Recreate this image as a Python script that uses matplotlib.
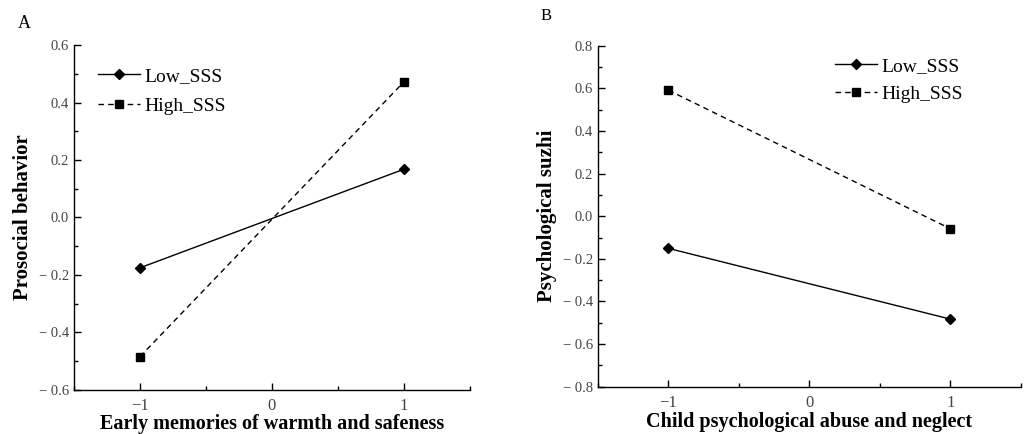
import matplotlib
matplotlib.use("Agg")
import matplotlib.pyplot as plt
from matplotlib.ticker import MultipleLocator, FuncFormatter

plt.rcParams['font.family'] = ['Liberation Serif', 'DejaVu Serif']

x_levels = [-1, 1]
a_low = [-0.175, 0.168]
a_high = [-0.484, 0.472]
b_low = [-0.151, -0.483]
b_high = [0.591, -0.059]
series_names = ["Low_SSS", "High_SSS"]

def yfmt(v, pos):
    if abs(v) < 1e-9:
        return "0.0"
    if v < 0:
        return "\u2212 %.1f" % abs(v)
    return "%.1f" % v

def xfmt(v, pos):
    if v < 0:
        return "\u2212%d" % abs(v)
    return "%d" % v

fig = plt.figure(figsize=(10.25, 4.34), dpi=100)
axA = fig.add_axes([0.0722, 0.1014, 0.3863, 0.7949])
axB = fig.add_axes([0.5834, 0.109, 0.4126, 0.7857])

def style(ax, ylim, ymaj):
    ax.set_xlim(-1.5, 1.5)
    ax.set_ylim(*ylim)
    ax.spines['top'].set_visible(False)
    ax.spines['right'].set_visible(False)
    for s in ['left', 'bottom']:
        ax.spines[s].set_linewidth(1.0)
    ax.xaxis.set_major_locator(MultipleLocator(1))
    ax.xaxis.set_minor_locator(MultipleLocator(0.5))
    ax.yaxis.set_major_locator(MultipleLocator(ymaj))
    ax.yaxis.set_minor_locator(MultipleLocator(ymaj / 2))
    ax.yaxis.set_major_formatter(FuncFormatter(yfmt))
    ax.xaxis.set_major_formatter(FuncFormatter(xfmt))
    ax.tick_params(which='major', direction='in', length=5, width=1.0,
                   labelsize=10.5, labelcolor='#444444')
    ax.tick_params(which='minor', direction='in', length=3, width=1.0)
    ax.tick_params(axis='x', which='major', labelsize=12, pad=6)

style(axA, (-0.6, 0.6), 0.2)
style(axB, (-0.8, 0.8), 0.2)

for ax, low, high in [(axA, a_low, a_high), (axB, b_low, b_high)]:
    ax.plot(x_levels, low, color='black', linestyle='-', linewidth=1.0,
            marker='D', markersize=5.5, label=series_names[0])
    ax.plot(x_levels, high, color='black', linestyle=(0, (4, 3)), linewidth=1.0,
            marker='s', markersize=6, label=series_names[1])

axA.legend(loc='upper left', bbox_to_anchor=(0.025, 0.975), frameon=False,
           fontsize=14, handlelength=2.2, handletextpad=0.2, labelspacing=0.62,
           borderaxespad=0.3)
axB.legend(loc='upper right', bbox_to_anchor=(0.895, 1.005), frameon=False,
           fontsize=14, handlelength=2.2, handletextpad=0.2, labelspacing=0.52,
           borderaxespad=0.3)

axA.set_xlabel("Early memories of warmth and safeness", fontsize=14.5,
               fontweight='bold', labelpad=0)
axA.set_ylabel("Prosocial behavior", fontsize=15, fontweight='bold', labelpad=4)
axB.set_xlabel("Child psychological abuse and neglect", fontsize=14.5,
               fontweight='bold', labelpad=1)
axB.set_ylabel("Psychological suzhi", fontsize=15, fontweight='bold', labelpad=4)

fig.text(18 / 1025, 1 - 24 / 434, "A", fontsize=13, va='center', ha='left')
fig.text(541 / 1025, 1 - 16 / 434, "B", fontsize=12, va='center', ha='left')

fig.savefig("out.png", dpi=100)
